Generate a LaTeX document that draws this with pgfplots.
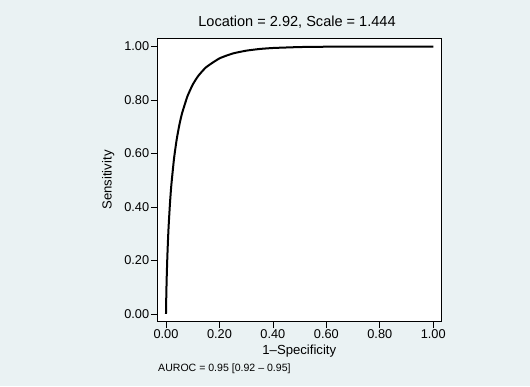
\documentclass[border=0pt]{standalone}
\usepackage{pgfplots}
\pgfplotsset{compat=1.18}
\usepackage{fontspec}
\setmainfont{Liberation Sans}
\definecolor{panelbg}{RGB}{234,242,243}

\begin{document}
\begin{tikzpicture}[x=1bp,y=1bp]
  % graph region
  \fill[panelbg] (0,0) rectangle (530,386);
  \path[use as bounding box] (0,0) rectangle (530,386);
  \begin{axis}[
    at={(157.3bp,64.3bp)}, anchor=south west,
    scale only axis, width=283.7bp, height=283.4bp,
    xmin=-0.0325, xmax=1.029, ymin=-0.029, ymax=1.031,
    axis background/.style={fill=white},
    axis line style={line width=0.8bp},
    xtick={0,0.2,0.4,0.6,0.8,1}, ytick={0,0.2,0.4,0.6,0.8,1},
    xtick pos=bottom, ytick pos=left,
    tick align=outside, major tick length=6.5bp,
    tick style={line width=0.7bp, black},
    /pgf/number format/assume math mode=true,
    /pgf/number format/.cd, fixed, fixed zerofill, precision=2, /pgfplots/.cd,
    tick label style={font=\fontsize{12.8}{14}\selectfont, inner sep=1.5bp},
    xlabel={1\textendash Specificity}, ylabel={Sensitivity},
    label style={font=\fontsize{13.2}{15}\selectfont},
    xlabel style={at={(axis description cs:0.5005,-0.1034)}, anchor=center},
    ylabel style={at={(axis description cs:-0.1727,0.5)}, anchor=center},
    title={Location = 2.92, Scale = 1.444},
    title style={at={(axis description cs:0.4924,1.0212)}, anchor=base,
      font=\fontsize{14.6}{16}\selectfont, inner sep=0pt},
    clip=false,
  ]
    % binormal ROC curve, a = 2.92, b = 1.444
    \addplot[black, line width=2bp, smooth, tension=0.3] coordinates {
      (0,0) (0.00001,0.0006) (0.0001,0.0071) (0.0005,0.0335) (0.001,0.0615)
      (0.002,0.1082) (0.003,0.1474) (0.005,0.2120) (0.0075,0.2768)
      (0.01,0.3303) (0.015,0.4154) (0.02,0.4819) (0.03,0.5809)
      (0.04,0.6525) (0.05,0.7071) (0.06,0.7501) (0.08,0.8135)
      (0.10,0.8576) (0.12,0.8894) (0.15,0.9227) (0.20,0.9559)
      (0.25,0.9742) (0.30,0.9847) (0.35,0.9910) (0.40,0.9947)
      (0.50,0.99825) (0.60,0.99949) (0.70,0.99988) (0.80,0.99998) (1.00,1.0)
    };
    \node[anchor=base west, inner sep=0pt, font=\fontsize{10.6}{12}\selectfont]
      at (axis description cs:0.0025,-0.1764) {AUROC = 0.95 [0.92 \textendash\ 0.95]};
  \end{axis}
\end{tikzpicture}
\end{document}
